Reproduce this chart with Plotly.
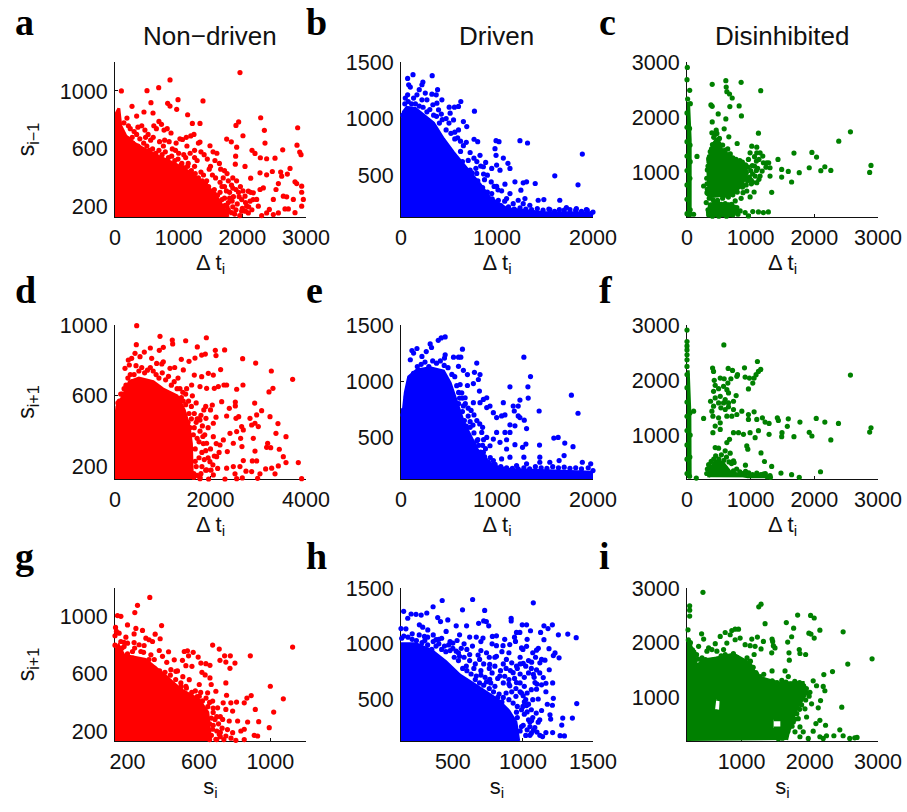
import plotly.graph_objects as go

# ---------- tick labels and axis ranges ----------
X_RANGE = {"a": [0, 3000], "b": [0, 2000], "c": [0, 3000], "d": [0, 4000], "e": [0, 2000], "f": [0, 3000],
           "g": [130, 1200], "h": [130, 1500], "i": [200, 3000]}
Y_RANGE = {"a": [130, 1200], "b": [130, 1500], "c": [200, 3000], "d": [130, 1000], "e": [130, 1500], "f": [200, 3000],
           "g": [130, 1200], "h": [130, 1500], "i": [200, 3000]}
X_TICKS = {"a": [0, 1000, 2000, 3000], "b": [0, 1000, 2000], "c": [0, 1000, 2000, 3000], "d": [0, 2000, 4000],
           "e": [0, 1000, 2000], "f": [0, 1000, 2000, 3000], "g": [200, 600, 1000], "h": [500, 1000, 1500],
           "i": [1000, 2000, 3000]}
Y_TICKS = {"a": [200, 600, 1000], "b": [500, 1000, 1500], "c": [1000, 2000, 3000], "d": [200, 600, 1000],
           "e": [500, 1000, 1500], "f": [1000, 2000, 3000], "g": [200, 600, 1000], "h": [500, 1000, 1500],
           "i": [1000, 2000, 3000]}
COLUMN_TITLES = ["Non\u2212driven", "Driven", "Disinhibited"]

# ---------- solid regions where dots merge, (x, y) ----------
a_dense = [(0,130),(0,530),(0,830),(60,880),(90,760),(170,690),(300,640),(420,610),(500,590),(700,545),(950,495),(1150,445),(1300,395),(1400,355),(1550,295),(1650,235),(1780,130)]
b_dense = [(0,130),(0,900),(25,1060),(60,1100),(150,1090),(235,1030),(339,960),(443,820),(547,700),(685,560),(823,420),(927,300),(1100,204),(1481,170),(2000,165),(2000,130)]
c_dense = [(0,200),(0,2250),(25,2250),(50,1600),(50,200),None,
           (350,540),(330,1000),(360,1250),(400,1500),(470,1620),(540,1430),(680,1300),(800,1200),(900,1120),(950,1000),(860,780),(730,620),(560,560),None,
           (340,230),(350,420),(680,430),(760,280),(720,220),(350,220)]
d_dense = [(0,130),(0,430),(40,540),(170,600),(300,680),(500,700),(800,680),(1000,640),(1300,600),(1450,520),(1550,430),(1600,330),(1620,130)]
e_dense = [(0,130),(0,745),(25,745),(45,900),(80,1040),(166,1100),(304,1120),(443,1090),(512,985),(581,809),(650,640),(720,520),(790,400),(860,300),(1000,240),(1135,215),(2000,190),(2000,130)]
f_dense = [(0,220),(0,2150),(20,2150),(45,1400),(50,220),None,
           (340,230),(350,380),(450,520),(560,500),(680,330),(950,240),(1250,240),(1270,225)]
g_dense = [(130,130),(130,760),(150,800),(180,730),(300,700),(400,600),(500,490),(600,420),(650,330),(665,130)]
h_dense = [(130,130),(130,1000),(237,1000),(350,940),(450,840),(550,720),(650,640),(750,560),(820,500),(900,400),(950,300),(970,130)]
i_dense = [(200,200),(200,1873),(224,2050),(300,1800),(346,1560),(420,1680),(638,1720),(882,1790),(1125,1620),(1223,1380),(1564,1260),(1904,1270),(1929,1030),(1807,789),(1710,488),(1661,220),None,
           (610,760),(690,740),(700,950),(630,970),None,
           (1470,440),(1590,440),(1590,590),(1470,590)]

# ---------- individual visible dots, (x, y) ----------
a_dots = [(100,1000),(503,1002),(686,1023),(864,1076),(1963,1127),(990,940),(1382,931),(565,919),(267,894),(827,915),(864,896),(969,873),(1141,836),(2288,815),(340,827),(455,855),(597,848),(188,813),(1215,776),(1335,776),(2869,746),(1942,786),(1900,762),(2346,728),(2010,691),(2356,640),(2859,626),(2901,578),(2922,560),(2634,594),(1492,622),(1827,649),(1754,668),(1335,647),(1911,612),(2152,590),(2199,569),(2283,539),(2382,532),(2513,536),(1895,550),(2042,479),(1890,495),(2749,465),(2602,440),(2471,444),(2278,435),(2382,421),(2131,398),(2618,412),(2707,426),(2566,361),(2827,373),(2854,361),(2932,343),(2932,301),(2278,320),(2330,331),(2529,320),(2644,274),(3011,262),(2958,251),(2932,205),(2827,160),(2670,186),(2723,186),(2801,251),(2697,269),(2487,251),(2424,182),(2304,140),(2487,147),(2566,158),(2382,158),(2225,251),(2251,205),(2173,297),(2094,158),(2068,205),(2042,274),(2094,308),(2121,239),
          (210,760),(240,740),(300,720),(270,680),(340,700),(390,670),(420,760),(470,730),(520,700),(560,660),(610,760),(650,740),(690,790),(730,770),(770,730),(820,740),(880,710),(700,650),(760,620),(850,650),(900,600),(960,640),(1020,670),(1060,665),(1120,680),(1190,690),(1240,700),(1310,640),(1130,620),(1000,570),(1080,560),(1180,570),(1250,540),(1350,580),(1400,560),(1450,530),(1540,580),(1600,570),(1640,500),(1660,460),(1720,450),(1760,430),(1700,400),(1480,460),(1530,420),(1580,400),(1650,370),(1720,340),(1780,380),(1850,400),(1910,380),(1970,340),(1800,300),(1860,270),(1940,300),(1990,250),(1650,300),(1720,260),(1780,230),(1850,200),(1920,220),(1990,170),(1880,150),(1700,180),(1760,160),(1620,230),(1560,290),(1440,380),(1350,440),(1250,480),(1150,500),(1050,500),
          (100,700),(120,640),(140,780),(200,670),(230,600),(280,640),(320,610),(360,620),(400,600),(450,640),(500,620),(540,590),(590,600),(640,570),(690,590),(740,560),(790,580),(840,540),(890,550),(940,520),(990,530),(1040,490),(1090,470),(1140,480),(1200,450),(1260,430),(1310,400),(1370,380),(1420,360),(1470,340),(1500,310),(1560,320),(1610,280),(1680,250),(1730,210),(1780,180),(1830,160),(1540,240),(1470,280),(1390,420),(1290,520),(1110,540),(950,590),(780,660),(600,680),(480,680),(360,750),(1250,590),(1500,480),(1570,520),
          (1850,330),(1900,320),(1950,270),(2010,310),(2050,230),(2000,190),(1960,140),(1900,180),(1840,240),(1800,260),(1760,200),(1690,150),(1830,350),(2050,170),(2100,200),(2150,180),(2170,250),(2130,300),(1750,310),(1680,340)]
b_dots = [(125,1388),(69,1355),(325,1379),(228,1323),(218,1299),(80,1299),(97,1278),(190,1255),(381,1255),(253,1225),(322,1216),(367,1210),(426,1166),(623,1151),(502,1101),(557,1101),(599,1107),(765,1065),(69,1210),(166,1210),(45,1181),(131,1181),(218,1166),(270,1166),(332,1122),(374,1136),(391,1077),(512,1048),(547,988),(650,973),(685,929),(599,900),(761,817),(799,796),(990,805),(1021,796),(1239,805),(1318,784),(1889,686),(979,734),(990,675),(1066,651),(823,675),(882,612),(996,589),(1114,604),(1135,559),(1031,544),(945,559),(1602,494),(1844,414),(1187,441),(1273,432),(1308,441),(1398,426),(1249,367),(1083,420),(996,402),(1048,361),(1135,337),(1291,293),(1221,278),(1654,278),(1488,284),(1429,278),(1100,293),(1014,278),(945,337),(720,441),(789,515),(720,544),(858,574),(1273,248),(1723,213),(1827,204),(1931,195),(2000,174),(1550,195),(1342,234),(1169,248),
          (40,1130),(20,1030),(75,1150),(110,1130),(150,1130),(190,1110),(230,1100),(270,1060),(300,1080),(340,1030),(370,1020),(400,960),(430,990),(470,900),(500,960),(520,870),(560,880),(590,830),(620,800),(650,760),(680,790),(720,700),(760,650),(790,620),(830,580),(860,510),(900,500),(940,440),(970,400),(1010,370),(870,460),(780,560),(700,630),(620,710),(640,620),(740,520),(800,450),(850,390),(900,350),(950,290),(1000,240),(1040,230),(1080,270),(1120,220),(1180,200),(1240,210),(1300,200),(1360,195),(1420,205),(1480,190),(1540,200),(1600,180),(1650,195),(1700,190),(1760,195),(1820,190),(1880,180),(1940,190),(1980,160),(560,820),(470,1000),(420,1040)]
c_dots = [(5,2902),(0,2680),(42,2488),(10,2332),(52,2248),(396,2596),(610,2662),(616,2548),(850,2632),(1158,2482),(626,2464),(668,2422),(710,2350),(376,2224),(396,2200),(673,2194),(819,2206),(490,2062),(855,2026),(610,1972),(396,1918),(2567,1738),(2384,1570),(1122,1714),(584,1792),(459,1768),(391,1720),(657,1648),(788,1528),(157,1294),(1680,1354),(1962,1366),(2035,1282),(1429,1240),(1283,1180),(2165,1108),(1920,1090),(2102,1036),(2259,1042),(2890,1132),(2869,1006),(1487,1060),(1591,1024),(1763,1000),(1487,922),(1643,832),(1330,646),(1304,940),(1304,1090),(1096,1360),(1017,1480),(1096,1462),(1148,1360),(991,1360),(1200,1180),(1252,1180),(1070,940),(1148,940),(1096,820),(1054,652),(991,562),(850,538),(939,670),(261,760),(104,250),(1278,292),(1200,280),(1122,292),(1033,298),(913,280),(965,220),(835,310),(783,370),(757,490),(887,1120),(965,1240),(913,1000),(313,640),(302,460),(339,280),(345,700),(340,1250),(1025,1130),(1090,1040),(960,900),(880,760),
          (320,1050),(330,1120),(345,1200),(352,1290),(365,1380),(385,1430),(400,1510),(420,1640),(440,1690),(470,1710),(510,1620),(500,1530),(560,1500),(600,1410),(640,1430),(680,1340),(720,1270),(770,1240),(830,1220),(870,1190),(920,1140),(960,1100),(1000,1040),(1030,980),(980,920),(950,860),(1010,800),(930,780),(870,740),(880,640),(790,650),(720,600),(650,560),(560,540),(480,500),(410,510),(350,540),(330,620),(320,700),(315,800),(310,900),(1060,1120),(1110,1080),(1180,1030),(1240,1100),(1130,1240),(1190,1300),(1090,1210),(1060,1290),(1010,860),(1030,830),(1130,880),
          (350,300),(370,420),(420,440),(480,470),(540,430),(600,440),(650,420),(700,430),(740,380),(780,300),(800,250),(720,240),(620,215),(500,215),(400,215),(340,240),(330,330),(40,260),(50,330),(45,900),(50,1200),(48,1500),(40,1800),
          (0,260),(0,520),(0,780),(0,1040),(0,1300),(0,1560),(0,1820),(0,2080)]
d_dots = [(454,996),(942,936),(1200,915),(1208,893),(1480,911),(1913,928),(447,889),(1724,876),(2101,857),(2115,827),(2296,859),(1892,836),(1815,830),(1675,813),(1550,795),(1389,806),(2673,810),(2946,785),(3274,740),(3720,693),(1012,874),(928,857),(740,870),(614,847),(419,840),(524,821),(349,812),(279,802),(209,755),(300,774),(768,812),(872,783),(1012,792),(1152,755),(1431,746),(1661,717),(1954,727),(2059,717),(2212,748),(1815,708),(2338,661),(2282,661),(2680,661),(2080,642),(2164,652),(1919,642),(1780,652),(1605,661),(2548,637),(3308,642),(3225,622),(2925,559),(2520,565),(2520,543),(2394,529),(2234,567),(2038,548),(3071,516),(2966,492),(2827,473),(3246,482),(3413,443),(2590,482),(2534,473),(2338,486),(2115,479),(1905,473),(1780,463),(2059,445),(2652,426),(2931,445),(3001,426),(2862,435),(3371,388),(3581,369),(2408,388),(2548,398),(2687,407),(2897,360),(2631,360),(3197,332),(3176,309),(3260,307),(3441,298),(2659,313),(2478,332),(2269,351),(2199,322),(2059,369),(1919,332),(2129,256),(1989,228),(2352,285),(2932,288),(2687,234),(2876,232),(2966,232),(3525,256),(3581,223),(3420,204),(3281,191),(3351,159),(3155,187),(3839,223),(3909,132),(2987,134),(2666,136),(2548,132),(3036,159),(2862,172),(2743,174),(2513,159),(2617,200),(2303,130),(2338,191),(2478,200),(2059,153),(1919,181),(1780,132),
          (60,560),(110,540),(150,610),(190,640),(230,660),(270,700),(320,720),(360,680),(400,720),(440,770),(500,740),(560,760),(620,730),(680,745),(740,760),(800,740),(860,720),(920,700),(990,730),(1060,690),(1120,710),(1180,660),(1240,680),(1300,640),(1360,640),(1420,620),(1480,610),(1540,570),(1600,540),(1660,500),(1720,470),(1780,400),(1830,430),(1880,380),(1900,290),(1850,330),(1870,240),(1820,200),(1800,160),(1950,250),(2000,300),(1950,420),(1700,560),(1620,600),(1500,640),(1250,760),(1320,700),(980,780),(120,610),(90,570),
          (1680,300),(1700,200),(1650,160),(1720,360),(1660,420),(1600,470),(1550,500),(1760,250),(1780,140),(1820,280),(1720,150),(1680,230),(1640,380),(1760,340),(1840,370),(1900,180),(1960,130),(2050,210),(2010,180),(2080,260),(2120,330),(1570,420),(1530,450),(1480,550),(1430,570),(1390,590),(1340,580),(1700,450),(1750,470),(1800,490),(1860,520),(1900,540),(2000,520),(1650,140),(2150,190),(2180,280)]
e_dots = [(460,1394),(419,1385),(388,1364),(304,1332),(318,1300),(263,1264),(166,1291),(114,1273),(131,1250),(218,1220),(640,1285),(547,1214),(599,1214),(623,1214),(460,1235),(453,1206),(789,1161),(97,1191),(599,1132),(650,1097),(692,1059),(765,1079),(823,1059),(806,1015),(754,979),(692,962),(616,970),(817,912),(893,853),(858,838),(754,809),(823,809),(668,853),(633,897),(893,765),(927,779),(962,720),(996,676),(1048,691),(1083,700),(1066,809),(1169,779),(1221,779),(1180,735),(1221,691),(1239,676),(1135,950),(1280,1214),(1349,1041),(1322,950),(1325,850),(1239,832),(1439,735),(1775,876),(1844,715),(1135,612),(1187,603),(1284,653),(1308,579),(1135,544),(1100,479),(1083,544),(996,544),(962,485),(893,500),(841,544),(927,426),(1031,456),(1100,397),(1187,435),(1301,441),(1266,412),(1443,432),(1592,494),(1637,500),(1706,450),(1792,418),(1699,338),(1647,294),(1550,279),(1446,324),(1280,324),(1135,324),(1048,309),(858,368),(962,294),(1889,279),(1976,265),(1446,279),(1308,265),(1204,250),
          (20,700),(55,860),(70,920),(100,990),(130,1070),(170,1130),(210,1150),(250,1170),(290,1130),(330,1180),(370,1160),(410,1180),(450,1140),(490,1120),(530,1060),(560,1040),(580,960),(600,900),(640,850),(670,800),(700,760),(730,740),(760,700),(790,650),(820,620),(850,590),(720,640),(640,730),(600,800),(860,480),(850,430),(800,480),(880,400),(840,350),(880,300),(930,320),(980,260),(1040,240),(1100,230),(1160,225),(1220,220),(1280,230),(1340,220),(1400,240),(1460,230),(1520,225),(1580,240),(1640,230),(1700,235),(1760,225),(1820,230),(1880,220),(1950,230),(2000,205),
          (660,650),(720,590),(760,540),(790,470),(810,430),(830,370),(870,330),(910,280),(750,610),(700,690),(650,780),(610,850),(680,600),(600,700),(760,440),(800,340),(900,260),(960,240)]
f_dots = [(0,2908),(0,2698),(0,2619),(0,2547),(0,2457),(0,2367),(0,2246),(579,2637),(2567,2090),(1106,2336),(1158,2192),(1122,2156),(903,2222),(647,2210),(402,2216),(417,2156),(715,2174),(793,2096),(783,2066),(913,2054),(981,2035),(1054,2035),(1085,2096),(1033,1945),(965,1837),(428,1994),(522,2035),(584,2023),(689,2023),(642,1945),(443,1903),(496,1843),(417,1795),(574,1885),(626,1825),(652,1765),(772,1716),(370,1614),(443,1674),(417,1524),(496,1584),(574,1584),(652,1584),(730,1614),(522,1704),(600,1644),(532,1494),(600,1464),(652,1512),(730,1464),(391,1433),(407,1343),(626,1343),(704,1343),(783,1373),(861,1433),(965,1373),(1054,1421),(965,1283),(1096,1283),(1184,1313),(1226,1235),(1289,1211),(1419,1313),(1435,1265),(1591,1295),(1774,1235),(2030,1301),(2165,1235),(2379,1211),(1576,1157),(2890,1132),(2869,1054),(1920,1048),(1962,982),(2259,910),(1680,970),(1492,1042),(1487,970),(1289,1012),(1122,1078),(1070,952),(991,1042),(887,1012),(809,1042),(730,1042),(626,862),(668,922),(522,1102),(407,1042),(443,1162),(522,1222),(496,1313),(261,1301),(104,1433),(939,802),(955,742),(443,772),(496,760),(600,712),(678,670),(1163,675),(918,452),(1216,518),(1330,428),(1476,308),(1643,278),(1763,230),(2097,332),(146,217),(1304,260),(1200,290),(1096,308),(991,272),(913,290),(730,350),(730,530),
          (320,380),(310,300),(340,460),(380,520),(420,560),(450,620),(500,560),(540,640),(580,540),(620,600),(660,510),(700,480),(740,500),(780,380),(830,330),(870,300),(920,340),(970,310),(1030,280),(1100,270),(1160,280),(1230,300),(1260,240),(1310,230),(350,300),(420,380),(500,300),(600,400),(40,250),(45,600),(50,1000),(45,1400),
          (0,300),(0,560),(0,820),(0,1080),(0,1340),(0,1600),(0,1860),(0,2100)]
g_dots = [(325,1134),(256,1079),(241,1028),(144,1007),(163,1002),(133,924),(200,942),(247,917),(284,903),(391,937),(138,896),(153,884),(237,879),(130,866),(355,877),(303,849),(383,845),(321,838),(340,826),(191,856),(237,819),(265,803),(293,798),(200,814),(163,826),(181,791),(228,756),(275,756),(331,733),(378,763),(430,754),(396,722),(462,698),(518,756),(536,761),(568,750),(677,801),(714,773),(744,726),(776,726),(718,694),(751,682),(802,675),(774,638),(888,726),(1125,787),(596,717),(542,726),(508,694),(611,675),(639,671),(662,659),(527,657),(561,652),(617,610),(635,592),(662,571),(669,525),(602,525),(546,559),(499,536),(527,513),(471,617),(443,629),(751,536),(695,478),(755,450),(1000,513),(1073,425),(893,448),(869,430),(854,397),(811,402),(779,397),(736,397),(649,467),(602,443),(677,409),(705,362),(751,351),(789,339),(916,351),(1019,332),(935,265),(873,263),(994,223),(910,170),(929,165),(854,212),(854,140),(807,135),(835,200),(789,188),(817,270),(770,270),(733,281),(714,177),(751,165),(695,142),(677,212),
          (130,800),(150,760),(170,780),(200,740),(230,710),(250,690),(270,690),(300,680),(320,700),(350,640),(380,620),(410,610),(440,590),(470,560),(500,510),(530,500),(560,470),(590,440),(620,410),(650,370),(680,330),(700,300),(670,290),(640,320),(710,250),(730,220),(680,240),(700,200),(720,160),(670,170),(660,140),(610,390),(580,480),(480,620),(420,680),(350,700),(510,580),(610,470),(290,750),(240,780),(180,820),
          (700,140),(740,140),(720,190),(760,210),(780,150),(660,250),(690,280),(720,300),(680,360),(660,400),(640,430)]
h_dots = [(424,1388),(641,1397),(1074,1367),(569,1305),(727,1299),(359,1332),(149,1291),(314,1276),(202,1267),(237,1264),(274,1258),(178,1229),(392,1235),(916,1229),(916,1205),(720,1205),(739,1199),(684,1184),(464,1214),(412,1199),(995,1170),(1026,1170),(1210,1170),(1150,1161),(1179,1137),(598,1161),(756,1161),(524,1161),(130,1137),(165,1134),(954,1102),(978,1102),(1054,1117),(1126,1102),(1253,1081),(1320,1087),(1380,1055),(1150,1037),(947,1022),(811,1072),(782,1066),(715,1052),(667,1061),(620,1061),(548,1081),(452,1111),(321,1125),(285,1149),(261,1170),(906,993),(858,984),(811,984),(1026,978),(990,963),(1097,943),(1186,957),(1229,919),(1217,895),(1258,875),(1133,860),(1157,854),(1062,836),(1002,825),(1121,830),(1097,766),(1188,768),(1145,698),(1074,727),(1212,650),(1164,647),(1133,633),(1086,653),(1097,594),(1164,571),(1217,512),(1174,459),(1210,450),(1384,465),(1109,506),(1133,403),(1193,364),(1198,326),(1284,335),(1353,335),(1277,273),(1265,178),(1296,175),(1212,205),(1164,205),(1121,181),(1074,226),(1109,299),(1062,314),(1026,447),(1002,535),(954,653),(930,742),(954,801),(882,860),(811,889),(763,816),(691,860),(620,904),(596,801),(667,712),(763,683),(835,712),(906,624),(524,934),(548,889),(500,1007),(380,1037),(297,1066),(954,388),(1002,270),(942,240),(1050,181),(906,181),
          (135,1050),(150,1070),(180,1060),(210,1040),(240,1030),(280,1010),(320,990),(360,1020),(400,1000),(440,980),(480,940),(510,880),(540,850),(570,780),(600,760),(630,730),(660,680),(690,650),(720,630),(760,600),(790,570),(830,550),(860,520),(900,500),(930,470),(960,440),(990,410),(1010,370),(1040,320),(1050,260),(1060,200),(1030,230),(650,780),(700,760),(730,700),(780,740),(820,690),(860,650),(900,680),(950,600),(980,570),(1010,620),(1030,560),(1060,590),(1070,500),(1010,480),(1060,410),(1040,460),(880,780),(920,830),(980,880),(1040,850),(760,880),(700,940),(640,980),(580,1000),(530,1030),(480,1020),(420,1050),(360,1080),(260,1080),(210,1090),(900,920),(850,930),(1000,950),(1080,700),(1100,640),(1120,740),(980,730),(1090,880),
          (870,400),(900,350),(930,300),(960,340),(990,260),(1020,180),(1050,300),(1085,250),(1100,210),(1140,170),(920,180),(950,160),(980,220),(900,250),(870,290),(860,200),(880,170),(1000,440),(1030,390),(1070,340),(1095,380),(1120,320),(1020,500),(990,560),(950,530),(920,570),(880,560),(850,480),(820,520),(800,620),(770,650),(740,660),(700,720),(660,820),(620,850),(580,880),(540,920),(500,960),(450,930),(400,1040),(350,950),(300,1030),(720,820),(760,780),(800,800),(840,760),(870,710),(900,640),(940,690),(980,650),(1010,700),(1040,740),(1060,780),(1020,800),(960,780),(910,760),(860,820),(800,880),(740,920),(680,900),(600,950),(560,960),(470,990),(420,950),(380,980),(320,1060),(980,820),(1070,920),(1110,960),(1030,1040),(940,1060),(870,1040),(780,1000),(700,1020)]
i_dots = [(434,2920),(1286,2704),(1252,2656),(239,2674),(239,2595),(239,2487),(1822,2505),(2012,2499),(2065,2451),(1656,2367),(1344,2348),(1763,2264),(2148,2228),(2489,2198),(1987,2174),(2017,2156),(1734,2108),(2065,2084),(1676,2011),(414,2162),(215,2234),(444,2066),(2913,1704),(2557,1608),(2333,1470),(2206,1415),(2469,819),(1695,1813),(1846,1873),(1856,1801),(1939,1783),(1700,1680),(1466,1945),(1490,1903),(1442,1813),(1447,2066),(1456,2023),(1320,2023),(1232,2102),(1150,2066),(1286,1885),(1198,1933),(1125,1945),(1052,1963),(1184,1783),(906,2246),(955,2246),(857,2222),(760,2186),(687,2114),(614,1981),(565,1873),(833,2144),(979,2084),(906,2053),(784,1993),(736,1873),(638,1843),(492,1843),(517,1903),(370,1933),(1637,1482),(1447,1482),(1325,1421),(1223,1421),(1685,1379),(2050,1301),(2197,1199),(2221,1120),(2099,1211),(2002,1090),(2158,940),(2124,807),(2026,880),(1929,789),(1953,639),(1831,609),(2231,488),(2148,579),(2090,518),(2440,404),(1856,458),(1904,368),(2050,380),(1783,368),(1695,440),(2245,296),(2353,296),(2489,296),(2586,247),(2659,259),(2693,265),(2197,247),(2148,278),(1978,247),(1856,278),(1758,549),
          (220,2050),(250,2000),(280,1870),(300,1830),(340,1780),(360,1700),(420,1720),(470,1690),(520,1650),(580,1680),(640,1700),(700,1760),(760,1780),(820,1740),(880,1800),(930,1730),(980,1680),(1030,1640),(1080,1720),(1130,1660),(1170,1550),(1210,1450),(1270,1380),(1320,1320),(1380,1280),(1450,1300),(1520,1270),(1590,1310),(1650,1280),(1720,1240),(1780,1290),(1850,1270),(1910,1210),(1950,1160),(1960,1080),(1990,1020),(1940,950),(1880,860),(1850,780),(1810,700),(1780,600),(1730,530),(1740,470),(1680,380),(1640,290),(1600,250),(1540,240),(1490,320)]

DENSE = dict(a=a_dense, b=b_dense, c=c_dense, d=d_dense, e=e_dense, f=f_dense, g=g_dense, h=h_dense, i=i_dense)
DOTS = dict(a=a_dots, b=b_dots, c=c_dots, d=d_dots, e=e_dots, f=f_dots, g=g_dots, h=h_dots, i=i_dots)

# ---------- layout ----------
W, H = 907, 812
COLS = [(115, 306), (401, 593), (687, 878)]
ROWS = [(62, 217), (325, 479), (588, 741)]
COLOURS = ["#ff0000", "#0000ff", "#008000"]
FONT = "Liberation Sans"
INK = "#111111"
PANELS = "abcdefghi"
X_LABELS = ["\u0394 t<sub>i</sub>"] * 6 + ["s<sub>i</sub>"] * 3
Y_LABELS = {"a": "s<sub>i\u22121</sub>", "d": "s<sub>i+1</sub>", "g": "s<sub>i+1</sub>"}
LETTER_POS = {"a": (13, 22), "b": (304, 22), "c": (597, 22), "d": (13, 290), "e": (304, 290), "f": (597, 290),
              "g": (13, 556), "h": (304, 556), "i": (597, 556)}

fig = go.Figure()
annotations = []
layout = {}
for n, p in enumerate(PANELS):
    r, c = divmod(n, 3)
    suffix = "" if n == 0 else str(n + 1)
    colour = COLOURS[c]
    xa, ya = "x" + suffix, "y" + suffix
    dense = DENSE[p]
    fig.add_trace(go.Scatter(
        x=[q[0] if q else None for q in dense], y=[q[1] if q else None for q in dense],
        mode="lines", fill="toself", fillcolor=colour, line=dict(color=colour, width=3),
        xaxis=xa, yaxis=ya, showlegend=False, cliponaxis=False, hoverinfo="skip"))
    fig.add_trace(go.Scatter(
        x=[q[0] for q in DOTS[p]], y=[q[1] for q in DOTS[p]],
        mode="markers", marker=dict(color=colour, size=5.2, line=dict(width=0)),
        xaxis=xa, yaxis=ya, showlegend=False, cliponaxis=False))
    x0, x1 = COLS[c]
    y0, y1 = ROWS[r]
    common = dict(showgrid=False, zeroline=False, showline=True, linecolor=INK, linewidth=1, automargin=False,
                  ticks="inside", ticklen=3, tickcolor=INK, tickwidth=1, layer="below traces",
                  tickfont=dict(family=FONT, size=21.5, color=INK))
    layout["xaxis" + suffix] = dict(domain=[x0 / W, x1 / W], range=X_RANGE[p], anchor=ya, tickmode="array",
                                    tickvals=X_TICKS[p], ticktext=[str(v) for v in X_TICKS[p]],
                                    ticklabelstandoff=1,
                                    title=dict(text=X_LABELS[n], standoff=4, font=dict(family=FONT, size=22, color=INK)),
                                    **common)
    ytitle = dict(text=Y_LABELS[p], standoff=18, font=dict(family=FONT, size=23, color=INK)) if p in Y_LABELS else None
    layout["yaxis" + suffix] = dict(domain=[1 - y1 / H, 1 - y0 / H], range=Y_RANGE[p], anchor=xa, tickmode="array",
                                    tickvals=Y_TICKS[p], ticktext=[str(v) for v in Y_TICKS[p]],
                                    ticklabelstandoff=2, title=ytitle, **common)
    lx, ly = LETTER_POS[p]
    annotations.append(dict(text="<b>%s</b>" % p, x=lx / W, y=1 - ly / H, xref="paper", yref="paper",
                            xanchor="left", yanchor="middle", showarrow=False,
                            font=dict(family="Liberation Serif", size=38, color="#000000")))

for centre, title in zip((210, 496, 782), COLUMN_TITLES):
    annotations.append(dict(text=title, x=centre / W, y=1 - 36 / H, xref="paper", yref="paper",
                            xanchor="center", yanchor="middle", showarrow=False,
                            font=dict(family=FONT, size=26, color=INK)))

fig.update_layout(width=W, height=H, margin=dict(l=0, r=0, t=0, b=0), plot_bgcolor="white", paper_bgcolor="white",
                  showlegend=False, annotations=annotations, **layout)
fig.write_html("out.html", post_script="document.body.style.margin='0';", config={"displayModeBar": False})
